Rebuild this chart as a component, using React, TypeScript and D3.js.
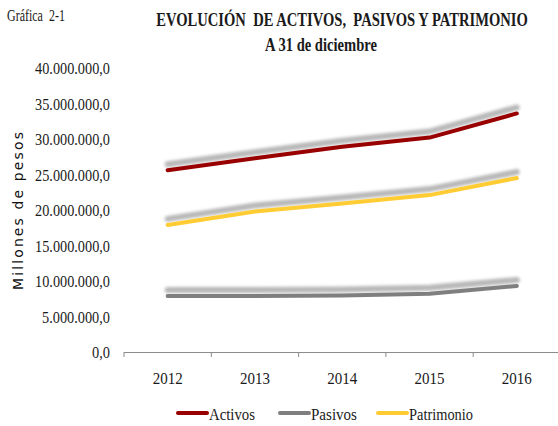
import React, { useRef, useEffect } from 'react';
import * as d3 from 'd3';

const years = ['2012', '2013', '2014', '2015', '2016'];
const activos = [25.6, 27.3, 28.9, 30.2, 33.6];
const pasivos = [7.9, 7.9, 7.95, 8.2, 9.3];
const patrimonio = [17.9, 19.8, 20.9, 22.1, 24.5];
const yTicks = [0, 5, 10, 15, 20, 25, 30, 35, 40];

const seriesNames = ['Activos', 'Pasivos', 'Patrimonio'];
const seriesColors = ['#990000', '#7f7f7f', '#ffcc33'];

const fmt = (v: number) => d3.format(',.1f')(v * 1e6).replace(/,/g, '#').replace('.', ',').replace(/#/g, '.');

// texto estrechado horizontalmente hasta el ancho pedido (como Times condensada)
const fitText = (parent: any, txt: string, x: number, y: number, w: number, anchor: string, size: number, bold = false) => {
  const g = parent.append('g');
  const t = g.append('text')
    .attr('x', 0).attr('y', 0)
    .attr('text-anchor', anchor)
    .style('font-family', 'Liberation Serif, Times New Roman, DejaVu Serif, serif')
    .style('white-space', 'pre')
    .attr('font-size', size)
    .attr('font-weight', bold ? 'bold' : 'normal')
    .attr('fill', '#1a1a1a')
    .text(txt);
  const nat = (t.node() as SVGTextElement).getComputedTextLength() || w;
  g.attr('transform', `translate(${x},${y}) scale(${w / nat},1)`);
  return t;
};

const App = () => {
  const svgRef = useRef<SVGSVGElement>(null);
  const width = 558;
  const height = 426;

  useEffect(() => {
    const svg = d3.select(svgRef.current);
    svg.selectAll('*').remove();

    // sombra difusa de las lineas
    const defs = svg.append('defs');
    defs.append('filter')
      .attr('id', 'blur')
      .attr('x', '-10%').attr('y', '-50%').attr('width', '120%').attr('height', '200%')
      .append('feGaussianBlur')
      .attr('stdDeviation', 1.6);

    const x = d3.scaleBand().domain(years).range([124, 560.5]);
    const y = d3.scaleLinear().domain([0, 40]).range([352, 68]);

    // titulos
    fitText(svg, 'Gráfica  2-1', 7, 21, 58, 'start', 16);
    fitText(svg, 'EVOLUCIÓN  DE ACTIVOS,  PASIVOS Y PATRIMONIO', 342, 26, 372, 'middle', 18, true);
    fitText(svg, 'A 31 de diciembre', 321, 51, 112, 'middle', 18, true);

    // eje y
    const yAxis = svg.append('g');
    yTicks.forEach(d => {
      const s = fmt(d);
      fitText(yAxis, s, 110, y(d) + 6, s.length > 11 ? 75 : s.length > 4 ? 68 : 18, 'end', 16);
    });

    svg.append('text')
      .attr('transform', 'translate(23,211) rotate(-90)')
      .attr('text-anchor', 'middle')
      .style('font-family', 'DejaVu Sans, sans-serif').attr('font-size', 14)
      .attr('fill', '#111')
      .attr('textLength', 158).attr('lengthAdjust', 'spacing')
      .text('Millones de pesos');

    // eje x
    const xAxis = svg.append('g');
    xAxis.append('line')
      .attr('x1', 124).attr('x2', 558)
      .attr('y1', 352.5).attr('y2', 352.5)
      .attr('stroke', '#8c8c8c').attr('stroke-width', 1.2);
    xAxis.selectAll('line.tick')
      .data(years)
      .join('line')
      .attr('class', 'tick')
      .attr('x1', d => x(d)!).attr('x2', d => x(d)!)
      .attr('y1', 352).attr('y2', 357)
      .attr('stroke', '#8c8c8c');
    years.forEach(d => {
      fitText(xAxis, d, x(d)! + x.bandwidth() / 2, 384, 30, 'middle', 16);
    });

    // lineas
    const series = [activos, pasivos, patrimonio];
    const line = d3.line<number>()
      .x((_, i) => x(years[i])! + x.bandwidth() / 2)
      .y(d => y(d));

    series.forEach((s) => {
      svg.append('path')
        .datum(s)
        .attr('fill', 'none')
        .attr('stroke', '#a6a6a6')
        .attr('stroke-opacity', 0.8)
        .attr('stroke-width', 6)
        .attr('stroke-linecap', 'round')
        .attr('transform', 'translate(0,-6)')
        .attr('filter', 'url(#blur)')
        .attr('d', line);
    });
    series.forEach((s, i) => {
      svg.append('path')
        .datum(s)
        .attr('fill', 'none')
        .attr('stroke', seriesColors[i])
        .attr('stroke-width', 4)
        .attr('stroke-linecap', 'round')
        .attr('stroke-linejoin', 'round')
        .attr('d', line);
    });

    // leyenda
    const legendX = [178, 280, 378];
    const legendW = [46, 46, 64];
    const legend = svg.append('g');
    seriesNames.forEach((name, i) => {
      legend.append('line')
        .attr('x1', legendX[i]).attr('x2', legendX[i] + 29)
        .attr('y1', 413).attr('y2', 413)
        .attr('stroke', seriesColors[i])
        .attr('stroke-width', 4)
        .attr('stroke-linecap', 'round');
      fitText(legend, name, legendX[i] + 31, 420, legendW[i], 'start', 16);
    });
  }, []);

  return (
    <svg ref={svgRef} width={width} height={height} style={{ position: 'absolute', left: 0, top: 0, background: '#fff' }}></svg>
  );
};

export default App;
